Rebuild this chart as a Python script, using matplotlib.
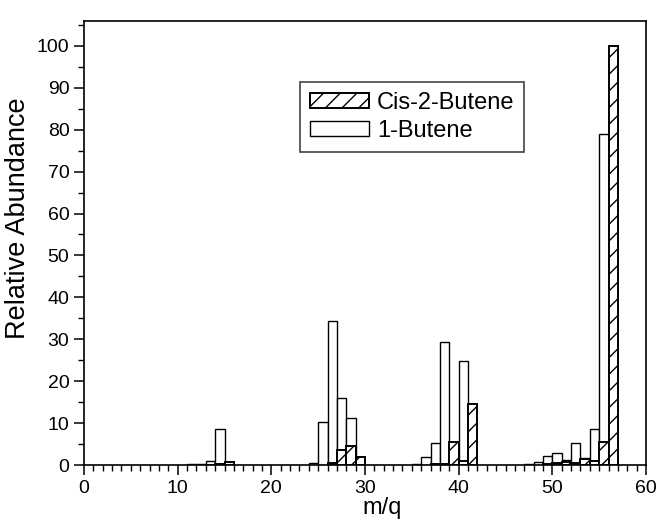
import numpy as np
import matplotlib
matplotlib.use("Agg")
import matplotlib.pyplot as plt
from matplotlib.ticker import MultipleLocator

plt.rcParams['font.family'] = ['Liberation Sans', 'DejaVu Sans']
plt.rcParams['hatch.linewidth'] = 1.0

# 1-Butene (open bars)
mq_1butene = [12, 13, 14, 15, 25, 26, 27, 28, 29, 36, 37, 38, 39, 40, 41,
              48, 49, 50, 51, 52, 53, 54, 55, 56]
ab_1butene = [0.2, 0.3, 1.0, 8.7, 0.4, 10.3, 34.4, 15.9, 11.3, 0.3, 2.0, 5.3, 29.3, 0.5, 24.8,
              0.2, 0.8, 2.2, 2.9, 1.2, 5.2, 1.7, 8.6, 78.9]

# Cis-2-Butene (hatched bars)
mq_cis = [13, 14, 15, 26, 27, 28, 29, 37, 38, 39, 40, 41,
          49, 50, 51, 52, 53, 54, 55, 56]
ab_cis = [0.1, 0.2, 0.6, 0.5, 3.6, 4.5, 2.0, 0.2, 0.3, 5.4, 1.0, 14.6,
          0.2, 0.4, 0.6, 0.5, 1.5, 1.0, 5.5, 100.0]

labels = ['Cis-2-Butene', '1-Butene']

fig = plt.figure(figsize=(6.59, 5.2), dpi=100)
W, H = 659, 520
L, R, T, B = 84, 646, 20.7, 465
ax = fig.add_axes([L / W, 1 - B / H, (R - L) / W, (B - T) / H])

b1 = ax.bar(mq_1butene, ab_1butene, width=-1.0, align='edge',
            facecolor='white', edgecolor='black', linewidth=1.0, zorder=2)
b2 = ax.bar(mq_cis, ab_cis, width=1.0, align='edge',
            facecolor='white', edgecolor='black', linewidth=1.4, hatch='//', zorder=3)

ax.set_xlim(0, 60)
ax.set_ylim(0, 106)
ax.xaxis.set_major_locator(MultipleLocator(10))
ax.xaxis.set_minor_locator(MultipleLocator(1))
ax.yaxis.set_major_locator(MultipleLocator(10))
ax.yaxis.set_minor_locator(MultipleLocator(5))
ax.tick_params(which='major', direction='out', length=7, width=1.1, labelsize=14,
               top=False, right=False)
ax.tick_params(which='minor', direction='out', length=4, width=1.0, top=False, right=False)
for s in ax.spines.values():
    s.set_linewidth(1.2)

ax.set_xlabel('m/q', fontsize=17)
ax.set_ylabel('Relative Abundance', fontsize=19.5)
ax.xaxis.set_label_coords((382 - L) / (R - L), -(497 - B) / (B - T))
ax.yaxis.set_label_coords(-(84 - 31) / (R - L), (B - 218) / (B - T))

leg = ax.legend([b2, b1], labels, loc='upper left',
                bbox_to_anchor=((300 - L) / (R - L), (B - 82) / (B - T)),
                borderaxespad=0, fontsize=17, frameon=True, fancybox=False,
                framealpha=1, edgecolor='#444444', handlelength=2.5,
                handleheight=0.6, handletextpad=0.34, labelspacing=0.24,
                borderpad=0.42)
leg.get_frame().set_linewidth(1.2)

fig.savefig('out.png', dpi=100)
